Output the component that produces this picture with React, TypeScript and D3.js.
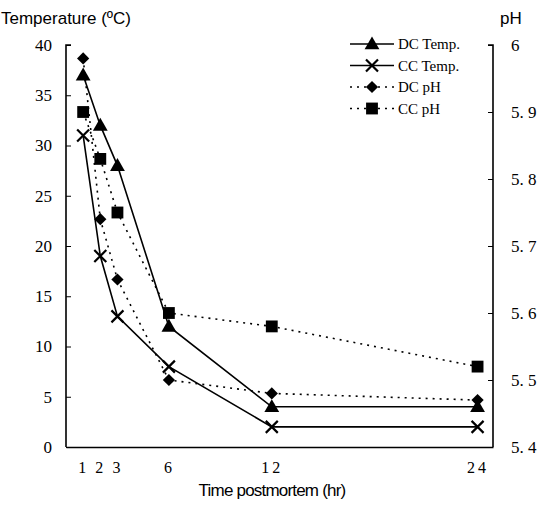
import React, { useRef, useEffect } from 'react'
import * as d3 from 'd3'

// hours postmortem
const hours = [1, 2, 3, 6, 12, 24]
// temperature (ºC)
const dcTemp = [37, 32, 28, 12, 4, 4]
const ccTemp = [31, 19, 13, 8, 2, 2]
// pH
const dcPh = [5.98, 5.74, 5.65, 5.5, 5.48, 5.47]
const ccPh = [5.9, 5.83, 5.75, 5.6, 5.58, 5.52]

const tempTicks = [0, 5, 10, 15, 20, 25, 30, 35, 40]
const phTicks = [5.4, 5.5, 5.6, 5.7, 5.8, 5.9, 6]
const phTickLabels = ['5. 4', '5. 5', '5. 6', '5. 7', '5. 8', '5. 9', '6']
const hourLabels = ['1', '2', '3', '6', '12', '24']
const seriesNames = ['DC Temp.', 'CC Temp.', 'DC pH', 'CC pH']

const serif = '"Liberation Serif", "DejaVu Serif", serif'
const sans = '"Liberation Sans", Arial, sans-serif'

export default function App() {
  const visEl = useRef<HTMLDivElement>(null)
  const width = 539
  const height = 516

  useEffect(() => {
    const root = d3.select(visEl.current)
    root.selectAll('*').remove()
    const svg = root.append('svg')
      .attr('width', width)
      .attr('height', height)
      .style('position', 'absolute')
      .style('left', 0)
      .style('top', 0)
      .style('background', '#fff')

    const margin = { top: 45, right: 46, bottom: 69, left: 66 }
    const innerWidth = width - margin.left - margin.right
    const innerHeight = height - margin.top - margin.bottom

    const x = d3.scaleLinear().domain([0, 24.9]).range([0, innerWidth])
    const yT = d3.scaleLinear().domain([0, 40]).range([innerHeight, 0])
    const yP = d3.scaleLinear().domain([5.4, 6]).range([innerHeight, 0])

    const g = svg.append('g')
      .attr('transform', `translate(${margin.left},${margin.top})`)

    // axes
    const leftAxis = d3.axisLeft(yT).tickValues(tempTicks).tickSize(-5).tickPadding(14)
    const leftG = g.append('g').call(leftAxis)
    leftG.select('.domain').attr('stroke-width', 1.6).attr('d', `M5,0H0V${innerHeight}`)
    leftG.selectAll('text').attr('font-family', serif).attr('font-size', 17).attr('fill', '#000')

    const rightAxis = d3.axisRight(yP).tickValues(phTicks).tickSize(-5).tickPadding(18)
      .tickFormat((d, i) => phTickLabels[i])
    const rightG = g.append('g').attr('transform', `translate(${innerWidth},0)`).call(rightAxis)
    rightG.select('.domain').attr('stroke-width', 1.6).attr('d', `M-5,0H0V${innerHeight}`)
    rightG.selectAll('text').attr('font-family', serif).attr('font-size', 17).attr('fill', '#000')

    const bottomAxis = d3.axisBottom(x).tickValues(hours).tickSize(0).tickPadding(15)
      .tickFormat((d, i) => hourLabels[i])
    const bottomG = g.append('g').attr('transform', `translate(0,${innerHeight})`).call(bottomAxis)
    bottomG.select('.domain').attr('stroke-width', 1.6)
    bottomG.selectAll('text').attr('font-family', serif).attr('font-size', 16)
      .attr('fill', '#000').attr('letter-spacing', 3)

    // axis titles
    svg.append('text').attr('x', 1).attr('y', 24)
      .attr('font-family', sans).attr('font-size', 17).text('Temperature (ºC)')
    svg.append('text').attr('x', 500).attr('y', 24)
      .attr('font-family', sans).attr('font-size', 17).text('pH')
    svg.append('text').attr('x', 272).attr('y', 496).attr('text-anchor', 'middle')
      .attr('font-family', sans).attr('font-size', 17).attr('letter-spacing', -0.8)
      .text('Time postmortem (hr)')

    const tempLine = d3.line<number>().x((d, i) => x(hours[i])).y(d => yT(d))
    const phLine = d3.line<number>().x((d, i) => x(hours[i])).y(d => yP(d))

    const dotted = '2,5'
    g.append('path').attr('d', phLine(dcPh)).attr('fill', 'none').attr('stroke', '#000')
      .attr('stroke-width', 1.6).attr('stroke-dasharray', dotted)
    g.append('path').attr('d', phLine(ccPh)).attr('fill', 'none').attr('stroke', '#000')
      .attr('stroke-width', 1.6).attr('stroke-dasharray', dotted)
    g.append('path').attr('d', tempLine(dcTemp)).attr('fill', 'none').attr('stroke', '#000')
      .attr('stroke-width', 1.6)
    g.append('path').attr('d', tempLine(ccTemp)).attr('fill', 'none').attr('stroke', '#000')
      .attr('stroke-width', 1.6)

    const triangle = d3.symbol().type(d3.symbolTriangle).size(95)()
    const square = d3.symbol().type(d3.symbolSquare).size(140)()
    const diamond = d3.symbol().type(d3.symbolSquare).size(75)()
    const cross = 'M-6,-6L6,6M-6,6L6,-6'

    const drawMarker = (sel: any, kind: string, cx: number, cy: number) => {
      if (kind === 'tri') {
        sel.append('path').attr('d', triangle).attr('transform', `translate(${cx},${cy + 1})`)
      } else if (kind === 'x') {
        sel.append('path').attr('d', cross).attr('transform', `translate(${cx},${cy})`)
          .attr('stroke', '#000').attr('stroke-width', 2.2).attr('fill', 'none')
      } else if (kind === 'sq') {
        sel.append('path').attr('d', square).attr('transform', `translate(${cx},${cy})`)
      } else {
        sel.append('path').attr('d', diamond).attr('transform', `translate(${cx},${cy}) rotate(45)`)
      }
    }

    const marks = g.append('g').attr('fill', '#000')
    dcPh.forEach((d, i) => drawMarker(marks, 'dia', x(hours[i]), yP(d)))
    ccPh.forEach((d, i) => drawMarker(marks, 'sq', x(hours[i]), yP(d)))
    dcTemp.forEach((d, i) => drawMarker(marks, 'tri', x(hours[i]), yT(d)))
    ccTemp.forEach((d, i) => drawMarker(marks, 'x', x(hours[i]), yT(d)))

    // legend
    const kinds = ['tri', 'x', 'dia', 'sq']
    const legend = svg.append('g').attr('transform', 'translate(350,44)')
    seriesNames.forEach((name, i) => {
      const row = legend.append('g').attr('transform', `translate(0,${i * 21.5})`).attr('fill', '#000')
      row.append('line').attr('x1', 0).attr('x2', 44).attr('y1', 0).attr('y2', 0)
        .attr('stroke', '#000').attr('stroke-width', i < 2 ? 1.4 : 1.4)
        .attr('stroke-dasharray', i < 2 ? null : '2,5')
      drawMarker(row, kinds[i], 22, 0)
      row.append('text').attr('x', 48).attr('y', 5).attr('font-family', serif)
        .attr('font-size', 15).text(name)
    })
  }, [])

  return (
    <div>
      <div ref={visEl}></div>
    </div>
  )
}
